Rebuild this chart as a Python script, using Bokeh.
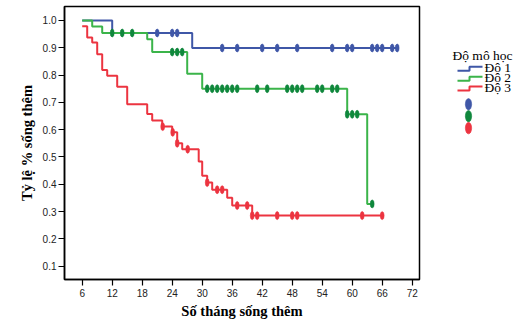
import numpy as np
from bokeh.plotting import figure
from bokeh.layouts import row
from bokeh.models import Range1d, FixedTicker, PrintfTickFormatter
from bokeh.core.properties import value
from bokeh.embed import file_html
from bokeh.resources import INLINE

# ---------------- data ----------------
x_ticks = [6, 12, 18, 24, 30, 36, 42, 48, 54, 60, 66, 72]
y_ticks = [0.1, 0.2, 0.3, 0.4, 0.5, 0.6, 0.7, 0.8, 0.9, 1.0]
group_names = ["Độ 1", "Độ 2", "Độ 3"]
legend_title = "Độ mô học"
x_title = "Số tháng sống thêm"
y_title = "Tỷ lệ % sống thêm"

g1_time = [6, 12, 28, 69]
g1_surv = [1.0, 0.954, 0.899, 0.899]
g1_censor = [21, 24, 25, 34, 37, 42, 45, 49, 56, 59, 60, 64, 65, 66, 68, 69]

g2_time = [6, 8, 10, 19, 20, 27, 30, 59, 63, 64]
g2_surv = [1.0, 0.978, 0.954, 0.931, 0.884, 0.805, 0.75, 0.656, 0.328, 0.328]
g2_censor = [12, 14, 16, 24, 25, 26, 31, 32, 33, 34, 35, 36, 37, 41, 43, 47, 48,
             49, 50, 53, 54, 56, 57, 59, 60, 61, 64]

g3_time = [6, 7, 8, 9, 10, 11, 13, 15, 19, 20, 22, 24, 25, 26, 29.3, 30, 31, 32,
           35, 36, 40, 66]
g3_surv = [0.979, 0.937, 0.919, 0.876, 0.818, 0.797, 0.757, 0.693, 0.657, 0.633,
           0.611, 0.590, 0.550, 0.528, 0.483, 0.431, 0.406, 0.380, 0.350, 0.322,
           0.285, 0.285]
g3_censor = [22.1, 24.1, 25, 27.1, 31, 33, 34, 37, 39, 40, 41, 45, 48, 49, 62, 66]

groups = [(g1_time, g1_surv, g1_censor),
          (g2_time, g2_surv, g2_censor),
          (g3_time, g3_surv, g3_censor)]

line_colors = ["#3F57A7", "#3BB44A", "#EC3440"]
marker_colors = ["#3F57A7", "#0F873C", "#EC3440"]

# ---------------- main plot ----------------
p = figure(width=421, height=321,
           x_range=Range1d(2.46, 73.46), y_range=Range1d(0.051, 1.051),
           output_backend="svg", toolbar_location=None,
           min_border_left=64, min_border_right=2,
           min_border_top=6, min_border_bottom=41)
p.grid.visible = False
p.background_fill_color = "white"
p.border_fill_color = "white"
p.outline_line_color = "black"
p.outline_line_width = 1.5

for ax in (p.xaxis[0], p.yaxis[0]):
    ax.axis_line_color = "black"
    ax.axis_line_width = 1.5
    ax.major_tick_line_color = "black"
    ax.major_tick_line_width = 1.2
    ax.major_tick_in = 0
    ax.minor_tick_line_color = None
    ax.major_label_text_font = "Liberation Sans"
    ax.major_label_text_font_size = "10px"
    ax.major_label_text_color = "#222222"
    ax.axis_label_text_font = "Liberation Serif"
    ax.axis_label_text_font_style = "bold"
    ax.axis_label_text_font_size = "14.5px"
    ax.axis_label_text_color = "black"

p.xaxis.ticker = FixedTicker(ticks=x_ticks)
p.yaxis.ticker = FixedTicker(ticks=y_ticks)
p.yaxis.formatter = PrintfTickFormatter(format="%.1f")
p.xaxis.axis_label = x_title
p.yaxis.axis_label = y_title
p.xaxis.major_tick_out = 6
p.xaxis.major_label_standoff = 3
p.xaxis.axis_label_standoff = 3
p.yaxis.major_tick_out = 6
p.yaxis.major_label_standoff = 2
p.yaxis.axis_label_standoff = 5

for (t, s, c), lc in zip(groups, line_colors):
    p.step(t, s, mode="after", line_color=lc, line_width=2)

for (t, s, c), mc in zip(groups, marker_colors):
    idx = np.searchsorted(np.array(t), np.array(c), side="right") - 1
    cy = [s[i] for i in idx]
    p.ellipse(x=c, y=cy, width=3.8, height=8,
              width_units="screen", height_units="screen",
              fill_color=mc, line_color=mc, line_width=0.6)

# ---------------- legend panel ----------------
q = figure(width=96, height=321, x_range=Range1d(0, 96), y_range=Range1d(321, 0),
           output_backend="svg", toolbar_location=None, min_border=0,
           x_axis_type=None, y_axis_type=None)
q.outline_line_color = None
q.grid.visible = False
q.background_fill_color = "white"
q.border_fill_color = "white"

q.text(x=[31], y=[58], text=[legend_title], text_font=value("Liberation Serif"),
       text_font_size="13.5px", text_baseline="middle", text_align="left",
       text_color="black")

entry_y = [72.3, 84.0, 95.5]
q.text(x=[63] * 3, y=entry_y, text=group_names, text_font=value("Liberation Serif"),
       text_font_size="13.5px", text_baseline="middle", text_align="left",
       text_color="black")
for cy, lc in zip(entry_y, line_colors):
    q.line([36, 48, 48, 61], [cy + 3.3, cy + 3.3, cy - 1.5, cy - 1.5],
           line_color=lc, line_width=2)

marker_y = [115, 129, 143]
q.ellipse(x=[47] * 3, y=marker_y, width=6.3, height=11.5,
          width_units="screen", height_units="screen",
          fill_color=marker_colors, line_color=marker_colors, line_width=0.6)

layout = row(p, q)
open("out.html", "w").write(file_html(layout, INLINE))
